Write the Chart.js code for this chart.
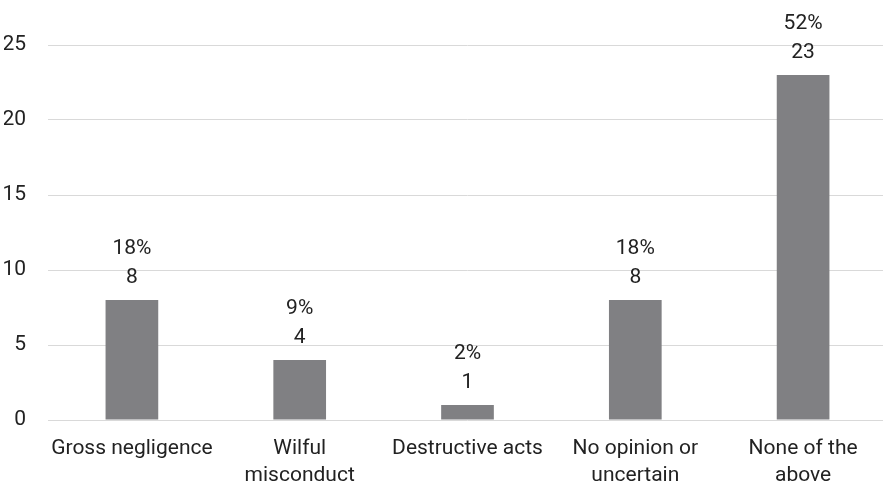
<!DOCTYPE html>
<html>
<head>
<meta charset="utf-8">
<script src="https://cdn.jsdelivr.net/npm/chart.js@4/dist/chart.umd.min.js"></script>
<style>
  html, body { margin: 0; padding: 0; background: #fff; overflow: hidden; }
  canvas { display: block; }
</style>
</head>
<body>
<canvas id="chart" width="888" height="489"></canvas>
<script>
// survey answers, number of respondents and share of total
const categories = [
    'Gross negligence',
    ['Wilful', 'misconduct'],
    'Destructive acts',
    ['No opinion or', 'uncertain'],
    ['None of the', 'above']
];
const counts = [8, 4, 1, 8, 23];
const shares = [18, 9, 2, 18, 52];
const yTicks = [0, 5, 10, 15, 20, 25];

const FONT = "Roboto, 'Liberation Sans', sans-serif";
const TEXT = '#222222';

Chart.defaults.font.family = FONT;
Chart.defaults.font.size = 21;
Chart.defaults.color = TEXT;

// two-line label over each bar: share on top, count below
const valueLabels = {
    id: 'valueLabels',
    afterDatasetsDraw(chart) {
        const ctx = chart.ctx;
        const meta = chart.getDatasetMeta(0);
        ctx.save();
        ctx.font = `21px ${FONT}`;
        ctx.fillStyle = TEXT;
        ctx.textAlign = 'center';
        ctx.textBaseline = 'alphabetic';
        meta.data.forEach((bar, i) => {
            ctx.fillText(String(counts[i]), bar.x, bar.y - 17);
            ctx.fillText(shares[i] + '%', bar.x, bar.y - 46);
        });
        ctx.restore();
    }
};

new Chart(document.getElementById('chart'), {
    type: 'bar',
    data: {
        labels: categories,
        datasets: [{
            data: counts,
            backgroundColor: '#808083',
            borderWidth: 0,
            categoryPercentage: 1,
            barPercentage: 0.314
        }]
    },
    options: {
        responsive: false,
        animation: false,
        layout: { padding: { top: 45, left: 4, right: 1, bottom: 0 } },
        plugins: {
            legend: { display: false },
            tooltip: { enabled: false }
        },
        scales: {
            x: {
                grid: { display: false, drawTicks: false },
                border: { display: false },
                ticks: {
                    padding: 15,
                    maxRotation: 0,
                    minRotation: 0,
                    autoSkip: false,
                    font: { size: 21, lineHeight: 1.3 }
                },
                afterFit: s => { s.height = 69; }
            },
            y: {
                min: 0,
                max: 25,
                afterBuildTicks: s => { s.ticks = yTicks.map(v => ({ value: v })); },
                grid: { color: '#d9d9d9', lineWidth: 1, drawTicks: false },
                border: { display: false },
                ticks: { padding: 22, font: { size: 21 } },
                afterFit: s => { s.width = 44; }
            }
        }
    },
    plugins: [valueLabels]
});
</script>
</body>
</html>
